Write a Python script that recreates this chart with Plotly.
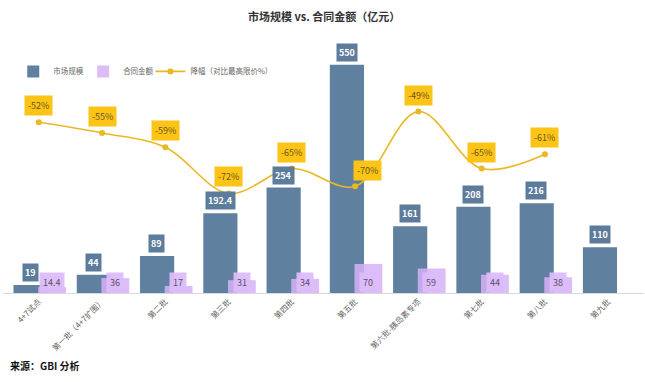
import plotly.graph_objects as go
from plotly.subplots import make_subplots

categories = ["4+7试点", "第一批（4+7扩围）", "第二批", "第三批", "第四批", "第五批",
              "第六批-胰岛素专项", "第七批", "第八批", "第九批"]
market_size = [19, 44, 89, 192.4, 254, 550, 161, 208, 216, 110]
contract_amount = [14.4, 36, 17, 31, 34, 70, 59, 44, 38, None]
decline = [-52, -55, -59, -72, -65, -70, -49, -65, -61, None]
market_labels = ["19", "44", "89", "192.4", "254", "550", "161", "208", "216", "110"]
contract_labels = ["14.4", "36", "17", "31", "34", "70", "59", "44", "38", ""]

FONT = "Noto Sans CJK SC"
BLUE = "#60809f"
PURPLE = "rgba(214,178,247,0.85)"
YELLOW = "#e9b824"
LABEL_Y = "#fbc417"

fig = make_subplots(specs=[[{"secondary_y": True}]])

fig.add_trace(go.Bar(x=categories, y=market_size, name="市场规模", legend="legend",
                     marker=dict(color=BLUE, line_width=0),
                     offset=-0.40, width=0.54), secondary_y=False)
fig.add_trace(go.Bar(x=categories, y=contract_amount, name="合同金额", legend="legend2",
                     marker=dict(color=PURPLE, line_width=0),
                     offset=-0.01, width=0.44), secondary_y=False)
fig.add_trace(go.Scatter(x=categories, y=decline, name="降幅（对比最高限价%）", legend="legend3",
                         mode="lines+markers",
                         line=dict(color=YELLOW, width=1.6, shape="spline", smoothing=1.0),
                         marker=dict(color=YELLOW, size=6)), secondary_y=True)

ann = []
for c, v, t in zip(categories, market_size, market_labels):
    ann.append(dict(x=c, y=v, xref="x", yref="y", text="<b>%s</b>" % t, showarrow=False,
                    yanchor="bottom", xshift=-8.5, yshift=3,
                    bgcolor="#5d7c9b", borderpad=2,
                    font=dict(family=FONT, size=9, color="white")))
for c, v, t in zip(categories, contract_amount, contract_labels):
    if v is None:
        continue
    ann.append(dict(x=c, y=0, xref="x", yref="y", text=t, showarrow=False,
                    yanchor="bottom", xshift=13, yshift=0,
                    bgcolor="rgba(220,188,250,0.95)", borderpad=3,
                    font=dict(family=FONT, size=9, color="#5a5266")))
for i, (c, v) in enumerate(zip(categories, decline)):
    if v is None:
        continue
    ann.append(dict(x=c, y=v, xref="x", yref="y2", text="%d%%" % v, showarrow=False,
                    yanchor="bottom", xshift=(12 if i == 5 else 0), yshift=(5 if i == 5 else 6),
                    bgcolor=LABEL_Y, borderpad=3,
                    font=dict(family=FONT, size=9, color="#6b5520")))

ann.append(dict(text="<b>市场规模 vs. 合同金额（亿元）</b>", xref="paper", yref="paper",
                x=0.5, y=1, yanchor="middle", yshift=28, showarrow=False,
                font=dict(family=FONT, size=11, color="#333333")))
ann.append(dict(text="<b>来源：GBI 分析</b>", xref="paper", yref="paper",
                x=0, xshift=5, xanchor="left", y=0, yanchor="middle", yshift=-72,
                showarrow=False, font=dict(family=FONT, size=10, color="#111111")))

leg_common = dict(orientation="h", y=0.89, xanchor="left", yanchor="middle",
                  font=dict(family=FONT, size=7.5, color="#666666"),
                  bgcolor="rgba(0,0,0,0)", itemwidth=30)

fig.update_layout(
    width=645, height=382,
    margin=dict(l=3, r=1, t=44, b=89, autoexpand=False),
    barmode="overlay",
    plot_bgcolor="white", paper_bgcolor="white",
    font=dict(family=FONT, size=9, color="#666666"),
    showlegend=True,
    legend=dict(x=0.016, **leg_common),
    legend2=dict(x=0.125, **leg_common),
    legend3=dict(x=0.230, **leg_common),
    annotations=ann,
)
fig.update_xaxes(type="category", tickangle=-45, showgrid=False, showline=True,
                 linecolor="#d9d9d9", linewidth=1, ticks="", domain=[0, 1], automargin=False,
                 tickfont=dict(family=FONT, size=8, color="#666666"))
fig.update_yaxes(range=[0, 600], visible=False, showgrid=False, secondary_y=False)
fig.update_yaxes(range=[-100, -30], visible=False, showgrid=False, secondary_y=True)

fig.write_html("out.html", config={"displayModeBar": False},
               post_script="document.body.style.margin='0';document.body.style.padding='0';")
